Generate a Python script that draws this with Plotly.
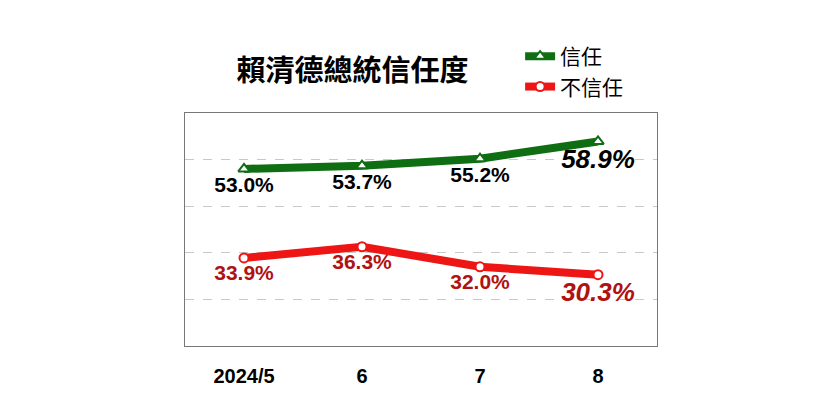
import plotly.graph_objects as go

months = ["2024/5", "6", "7", "8"]
trust = [53.0, 53.7, 55.2, 58.9]
distrust = [33.9, 36.3, 32.0, 30.3]


def labels(vals):
    out = [f"<b>{v:.1f}%</b>" for v in vals]
    out[-1] = f"<b><i>{vals[-1]:.1f}%</i></b>"
    return out


fig = go.Figure()
fig.add_trace(go.Scatter(
    x=months, y=trust, name="信任", mode="lines+markers+text",
    line=dict(color="#0f6e12", width=8),
    marker=dict(symbol="triangle-up", size=10, color="white",
                line=dict(color="#0f6e12", width=2)),
    text=labels(trust), textposition="bottom center",
    textfont=dict(color="black", size=[21, 21, 21, 26], family="Arial"),
))
fig.add_trace(go.Scatter(
    x=months, y=distrust, name="不信任", mode="lines+markers+text",
    line=dict(color="#ee1515", width=8),
    marker=dict(symbol="circle", size=9, color="white",
                line=dict(color="#ee1515", width=2)),
    text=labels(distrust), textposition="bottom center",
    textfont=dict(color="#b01212", size=[21, 21, 21, 26], family="Arial"),
))

fig.update_layout(
    width=840, height=420,
    margin=dict(l=177, r=191, t=105, b=82),
    paper_bgcolor="white", plot_bgcolor="white",
    font=dict(family="Noto Sans CJK TC", color="black"),
    title=dict(text="<b>賴清德總統信任度</b>", x=0.41, xanchor="center",
               y=0.85, yanchor="middle", font=dict(size=29)),
    legend=dict(x=0.71, y=1.33, xanchor="left", yanchor="top",
                font=dict(size=21), bgcolor="rgba(0,0,0,0)", tracegroupgap=2),
    xaxis=dict(type="category", range=[-0.5, 3.5], showgrid=False,
               showline=True, linecolor="#777", mirror=True, ticks="",
               tickfont=dict(size=20, family="Arial", color="black", weight="bold"),
               ticklabelstandoff=12),
    yaxis=dict(range=[15, 65], tick0=5, dtick=10, showticklabels=False,
               showgrid=True, gridcolor="#c8c8c8", griddash="dash",
               showline=True, linecolor="#777", mirror=True, zeroline=False),
)
fig.write_html("out.html")
